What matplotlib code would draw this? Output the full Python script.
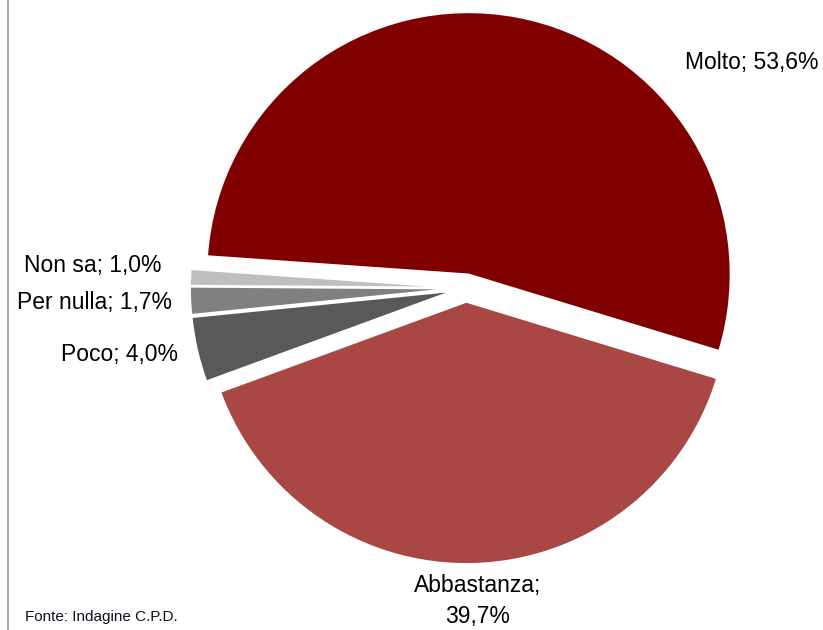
import matplotlib
matplotlib.use("Agg")
from matplotlib import pyplot as plt
from matplotlib.lines import Line2D

labels = ['Molto', 'Abbastanza', 'Poco', 'Per nulla', 'Non sa']
values = [53.6, 39.7, 4.0, 1.7, 1.0]
label_texts = ['Molto; 53,6%', 'Abbastanza;\n39,7%', 'Poco; 4,0%',
               'Per nulla; 1,7%', 'Non sa; 1,0%']
colors = ['#800000', '#A94744', '#595959', '#808080', '#BFBFBF']

plt.rcParams['font.family'] = ['Liberation Sans', 'DejaVu Sans']

fig = plt.figure(figsize=(8.23, 6.3), dpi=100)

# pie axes: centre ~ (466, 288) px, radius ~ 262 px
cx, cy, half = 466, 630 - 288, 300
ax = fig.add_axes([(cx - half) / 823, (cy - half) / 630, 2 * half / 823, 2 * half / 630])
wedges, _ = ax.pie(values, colors=colors, startangle=176, counterclock=False,
                   explode=[0.053] * len(values),
                   wedgeprops=dict(edgecolor='white', linewidth=1.2))
lim = half / 262
ax.set_xlim(-lim, lim)
ax.set_ylim(-lim, lim)
ax.set_aspect('equal')
ax.axis('off')

# label positions in figure pixels (x, y from top) and alignment
label_pos = [(752, 63, 'center'), (478, 601, 'center'), (178, 355, 'right'),
             (172, 302, 'right'), (162, 265, 'right')]
for txt, (px, py, ha) in zip(label_texts, label_pos):
    fig.text(px / 823, 1 - py / 630, txt, ha=ha, va='center',
             fontsize=16.5, color='black', linespacing=1.45)

fig.text(25 / 823, 1 - 617 / 630, 'Fonte: Indagine C.P.D.',
         fontsize=11, ha='left', va='center', color='#101020')

# left border line
fig.add_artist(Line2D([8 / 823, 8 / 823], [0, 1], color='#A0A0A0', linewidth=1.2))

fig.savefig('out.png', dpi=100)
